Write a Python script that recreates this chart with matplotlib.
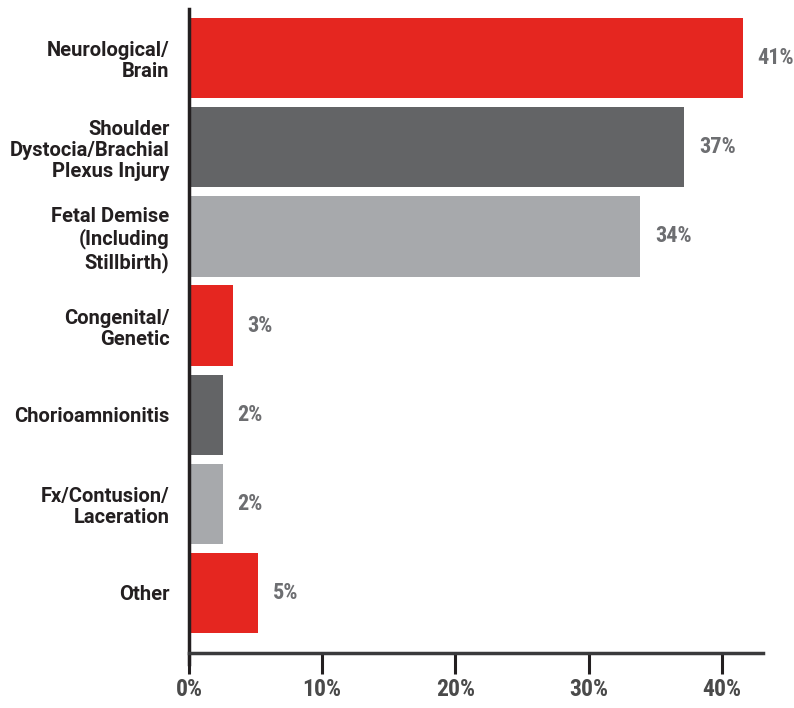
import matplotlib.pyplot as plt

categories = ["Neurological/\nBrain", "Shoulder\nDystocia/Brachial\nPlexus Injury",
              "Fetal Demise\n(Including\nStillbirth)", "Congenital/\nGenetic",
              "Chorioamnionitis", "Fx/Contusion/\nLaceration", "Other"]
values = [41.6, 37.2, 33.9, 3.3, 2.55, 2.55, 5.2]
value_labels = ["41%", "37%", "34%", "3%", "2%", "2%", "5%"]
colors = ["#e52620", "#636466", "#a7a9ac", "#e52620", "#636466", "#a7a9ac", "#e52620"]
xticks = [0, 10, 20, 30, 40]

plt.rcParams['font.family'] = ['Roboto', 'DejaVu Sans']
num_font = ['Roboto Condensed', 'DejaVu Sans']

fig = plt.figure(figsize=(7.94, 7.08), dpi=100)
ax = fig.add_axes([0.238, 0.062, 0.723, 0.925])

pos = list(range(len(categories)))
ax.barh(pos, values, height=0.9, color=colors)
ax.set_ylim(6.80, -0.55)
ax.set_xlim(0, 43.1)

for p, v, lab in zip(pos, values, value_labels):
    ax.text(v + 1.1, p, lab, va='center', ha='left', fontsize=16,
            fontweight='semibold', color='#6d6e71', family=num_font)

# spines first: moving a spine resets the axis ticks
for s in ['top', 'right']:
    ax.spines[s].set_visible(False)
ax.spines['left'].set_linewidth(2.5)
ax.spines['left'].set_color('#231f20')
ax.spines['bottom'].set_linewidth(2.5)
ax.spines['bottom'].set_color('#3a3a3c')
ax.spines['bottom'].set_position(('data', 6.67))

ax.tick_params(axis='y', length=0, pad=14)
ax.tick_params(axis='x', length=15, width=2.2, color='#231f20', pad=3)

ax.set_yticks(pos)
ax.set_yticklabels(categories, fontsize=14.5, fontweight='bold',
                   color='#231f20', linespacing=1.15)

ax.set_xticks(xticks)
ax.set_xticklabels([f"{x}%" for x in xticks], fontsize=17, fontweight='semibold',
                   color='#4a4a4a', family=num_font)

fig.savefig("out.png", dpi=100)
